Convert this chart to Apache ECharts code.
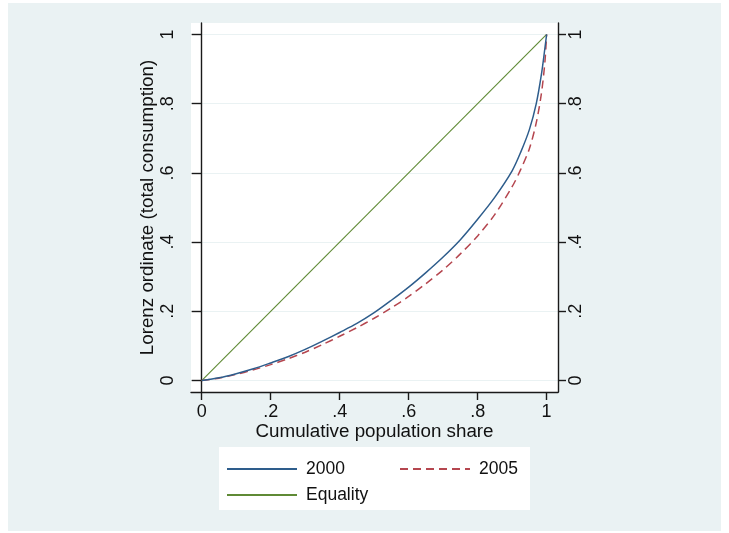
<!DOCTYPE html>
<html>
<head>
<meta charset="utf-8">
<script src="https://cdn.jsdelivr.net/npm/echarts@6/dist/echarts.min.js"></script>
<style>
  html, body { margin: 0; padding: 0; background: #fff; }
  #chart { width: 729px; height: 533px; }
</style>
</head>
<body>
<div id="chart"></div>
<script>
// cumulative population share (x) and Lorenz ordinates
var shares = [0, 0.05, 0.1, 0.15, 0.2, 0.25, 0.3, 0.35, 0.4, 0.45, 0.5, 0.55, 0.6, 0.65, 0.7, 0.75, 0.8, 0.85, 0.9, 0.925, 0.95, 0.97, 0.985, 0.995, 1];
var lorenz2000 = [0, 0.008, 0.02, 0.034, 0.051, 0.069, 0.09, 0.114, 0.139, 0.165, 0.196, 0.232, 0.27, 0.312, 0.357, 0.407, 0.466, 0.53, 0.606, 0.66, 0.725, 0.8, 0.885, 0.96, 1];
var lorenz2005 = [0, 0.007, 0.018, 0.031, 0.046, 0.063, 0.082, 0.104, 0.128, 0.153, 0.18, 0.21, 0.243, 0.28, 0.32, 0.366, 0.418, 0.48, 0.56, 0.61, 0.67, 0.745, 0.83, 0.92, 1];
var equalityX = [0, 1];
var equalityY = [0, 1];
var tickValues = [0, 0.2, 0.4, 0.6, 0.8, 1];
var tickLabels = ['0', '.2', '.4', '.6', '.8', '1'];

function pairs(xs, ys) {
  var out = [];
  for (var i = 0; i < xs.length; i++) out.push([xs[i], ys[i]]);
  return out;
}

function tickLabel(v) {
  for (var i = 0; i < tickValues.length; i++) {
    if (Math.abs(v - tickValues[i]) < 1e-6) return tickLabels[i];
  }
  return '';
}

var font = 'Liberation Sans, Arial, Helvetica, sans-serif';
var axisColor = '#1a1a1a';

var chart = echarts.init(document.getElementById('chart'));

var yAxisBase = {
  type: 'value',
  min: -0.033,
  max: 1.033,
  interval: 0.2,
  axisLine: { show: true, lineStyle: { color: axisColor, width: 1.4 } },
  axisTick: { show: true, length: 9, lineStyle: { color: axisColor, width: 1.4 } },
  axisLabel: {
    rotate: 90,
    fontFamily: font,
    fontSize: 18,
    color: '#111',
    margin: 14,
    customValues: tickValues,
    formatter: tickLabel
  },
  splitLine: { show: false }
};

// legend entries: line only, no symbol
function legendItem(name, left, top) {
  return {
    data: [name], left: left, top: top, itemWidth: 70, itemHeight: 14, padding: 0,
    itemStyle: { opacity: 0 },
    textStyle: { fontFamily: font, fontSize: 17.5, color: '#111', padding: [0, 0, 0, 4] }
  };
}

var option = {
  animation: false,
  backgroundColor: '#ffffff',
  graphic: [
    { type: 'rect', z: -10, shape: { x: 8, y: 3, width: 713, height: 528 }, style: { fill: '#eaf2f3' } },
    { type: 'rect', z: -5, shape: { x: 219, y: 447, width: 311, height: 63 }, style: { fill: '#ffffff' } }
  ],
  grid: {
    left: 191,
    right: 171,
    top: 23,
    bottom: 141,
    show: true,
    backgroundColor: '#ffffff',
    borderWidth: 0
  },
  xAxis: {
    type: 'value',
    min: -0.031,
    max: 1.033,
    name: 'Cumulative population share',
    nameLocation: 'middle',
    nameGap: 30,
    nameMoveOverlap: false,
    nameTextStyle: { fontFamily: font, fontSize: 18.8, color: '#111' },
    axisLine: { show: true, onZero: false, lineStyle: { color: axisColor, width: 1.4 } },
    axisTick: { show: true, length: 8, customValues: tickValues, lineStyle: { color: axisColor, width: 1.4 } },
    axisLabel: {
      fontFamily: font,
      fontSize: 18,
      color: '#111',
      margin: 11,
      customValues: tickValues,
      formatter: tickLabel
    },
    splitLine: { show: false }
  },
  yAxis: [
    Object.assign({}, yAxisBase, {
      position: 'left',
      name: 'Lorenz ordinate (total consumption)',
      nameLocation: 'middle',
      nameGap: 34,
      nameMoveOverlap: false,
      nameRotate: 90,
      nameTextStyle: { fontFamily: font, fontSize: 18.8, color: '#111' },
      axisTick: { show: true, length: 10, customValues: tickValues, lineStyle: { color: axisColor, width: 1.4 } },
      splitLine: { show: true, lineStyle: { color: '#eaf2f3', width: 1.2 } }
    }),
    Object.assign({}, yAxisBase, {
      position: 'right',
      axisLabel: Object.assign({}, yAxisBase.axisLabel, { margin: 9 }),
      axisTick: { show: true, length: 8, customValues: tickValues, lineStyle: { color: axisColor, width: 1.4 } }
    })
  ],
  legend: [
    legendItem('2000', 226, 460),
    legendItem('2005', 399, 460),
    legendItem('Equality', 226, 486)
  ],
  series: [
    {
      name: 'Equality',
      type: 'line',
      symbol: 'none',
      data: pairs(equalityX, equalityY),
      lineStyle: { color: '#5f8a35', width: 1.1 },
      itemStyle: { color: '#5f8a35' }
    },
    {
      name: '2005',
      type: 'line',
      symbol: 'none',
      smooth: 0.3,
      data: pairs(shares, lorenz2005),
      lineStyle: { color: '#b5464f', width: 1.5, type: [8, 5] },
      itemStyle: { color: '#b5464f' }
    },
    {
      name: '2000',
      type: 'line',
      symbol: 'none',
      smooth: 0.3,
      data: pairs(shares, lorenz2000),
      lineStyle: { color: '#2e5d8c', width: 1.5 },
      itemStyle: { color: '#2e5d8c' }
    }
  ]
};

chart.setOption(option);
</script>
</body>
</html>
